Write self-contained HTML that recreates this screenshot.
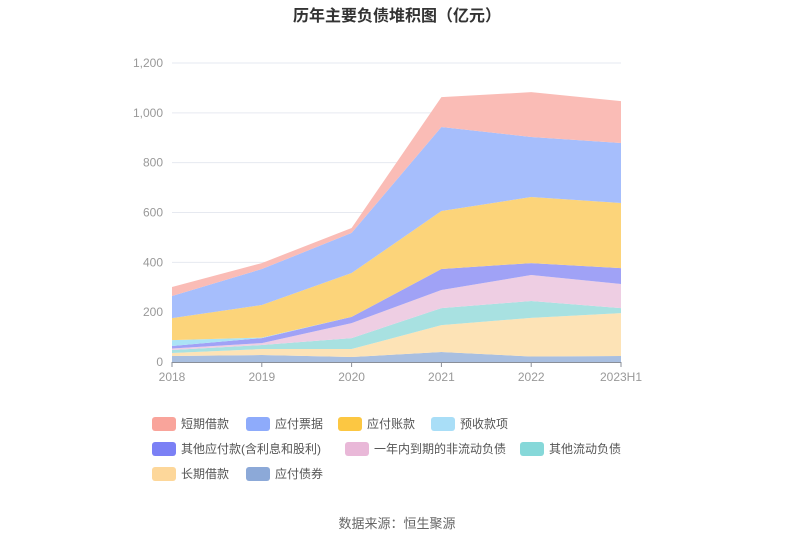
<!DOCTYPE html>
<html><head><meta charset="utf-8"><style>
body{margin:0;background:#fff;font-family:"Liberation Sans","Noto Sans CJK SC",sans-serif;}
#wrap{position:relative;width:795px;height:547px;overflow:hidden}
</style></head><body><div id="wrap">
<svg id="s" width="795" height="547" xmlns="http://www.w3.org/2000/svg" style="position:absolute;left:0;top:0">
<text x="397" y="21" text-anchor="middle" font-size="16" font-weight="bold" fill="#333" font-family="Liberation Sans,Noto Sans CJK SC,sans-serif">历年主要负债堆积图（亿元）</text>
<g id="grid" stroke="#e6e9f0" stroke-width="1"></g>
<g id="areas"></g>
<g id="lab" font-size="12" fill="#999" font-family="Liberation Sans,Noto Sans CJK SC,sans-serif"></g>
<g id="leg" font-size="12" fill="#555" font-family="Liberation Sans,Noto Sans CJK SC,sans-serif"></g>
<text x="397" y="528" text-anchor="middle" font-size="13" fill="#666" font-family="Liberation Sans,Noto Sans CJK SC,sans-serif">数据来源：恒生聚源</text>
</svg>
<script>
var NS="http://www.w3.org/2000/svg";
function el(p,t,a,txt){var e=document.createElementNS(NS,t);for(var k in a)e.setAttribute(k,a[k]);if(txt)e.textContent=txt;document.getElementById(p).appendChild(e);}
var y0=362,sc=299/1200;function Y(v){return y0-v*sc}
var xs=[172,261.8,351.6,441.4,531.2,621];
for(var i=1;i<=6;i++){el("grid","line",{x1:172,x2:621,y1:Y(i*200),y2:Y(i*200)});}
el("grid","line",{x1:172,x2:621,y1:362.5,y2:362.5,stroke:"#8a8f99"});
var yl=["0","200","400","600","800","1,000","1,200"];
for(i=0;i<7;i++)el("lab","text",{x:163,y:Y(i*200)+4,"text-anchor":"end"},yl[i]);
var xl=["2018","2019","2020","2021","2022","2023H1"];
for(i=0;i<6;i++){el("lab","text",{x:xs[i],y:381,"text-anchor":"middle"},xl[i]);el("grid","line",{x1:xs[i],x2:xs[i],y1:362,y2:367,stroke:"#8a8f99"});}
// cumulative tops bottom->top
var tops=[
[24,28,20,40,22,24],
[36,52,52,148,177,196],
[48,68,96,216,245,216],
[54,76,156,289,349,313],
[64,96,181,373,397,377],
[88,98,181,373,397,377],
[176,229,357,606,662,638],
[265,373,518,943,903,879],
[301,397,538,1063,1083,1047]];
var cols=["#a9bfe0","#fde3b6","#a8e1e1","#eecee3","#a0a2f6","#abe3f6","#fcd47a","#a6befc","#fabcb6"];
for(var L=0;L<tops.length;L++){var pts=[];for(i=0;i<6;i++)pts.push(xs[i]+","+Y(tops[L][i]));
for(i=5;i>=0;i--)pts.push(xs[i]+","+Y(L?tops[L-1][i]:0));el("areas","polygon",{points:pts.join(" "),fill:cols[L]});}
var leg=[[152,424,"#f9a49b","短期借款"],[246,424,"#8eabfb","应付票据"],[338,424,"#fcc742","应付账款"],[431,424,"#a9def7","预收款项"],
[152,449,"#7b80f5","其他应付款(含利息和股利)"],[345,449,"#e9b8d8","一年内到期的非流动负债"],[520,449,"#86d8d9","其他流动负债"],
[152,474,"#fdd79a","长期借款"],[246,474,"#8ca9d8","应付债券"]];
leg.forEach(function(l){el("leg","rect",{x:l[0],y:l[1]-7,width:24,height:14,rx:3,fill:l[2]});el("leg","text",{x:l[0]+29,y:l[1]+4},l[3]);});
</script></div></body></html>
